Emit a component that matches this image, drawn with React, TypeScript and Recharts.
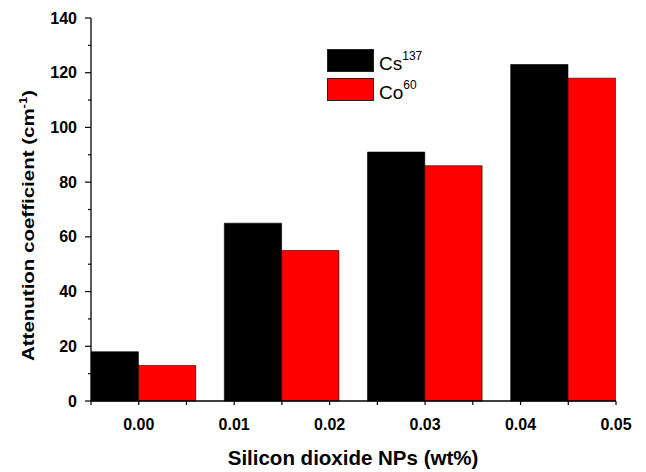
import { BarChart, Bar, XAxis, YAxis, Legend, Label } from 'recharts'

const FONT = '"Liberation Sans", Arial, sans-serif'

// group centres on the wt% axis (pairs sit either side of these)
const X_POS = [0, 0.015, 0.03, 0.045]
const CS137 = [18, 65, 91, 123]
const CO60 = [13, 55, 86, 118]

const X_TICKS = [-0.005, 0, 0.005, 0.01, 0.015, 0.02, 0.025, 0.03, 0.035, 0.04, 0.045, 0.05]
const X_LABELS = ['0.00', '0.01', '0.02', '0.03', '0.04', '0.05']
const Y_TICKS = [0, 10, 20, 30, 40, 50, 60, 70, 80, 90, 100, 110, 120, 130, 140]

const SERIES = [
  { key: 'cs', name: 'Cs', sup: '137', color: '#000000' },
  { key: 'co', name: 'Co', sup: '60', color: '#ff0000' },
]

const data = X_POS.map((x, i) => ({ x, cs: CS137[i], co: CO60[i] }))

function XTick({ x, y, payload }: any) {
  const v = payload.value
  const idx = Math.round(v * 100)
  const labelled = Math.abs(v * 100 - idx) < 1e-6 && idx >= 0
  return (
    <g>
      <line x1={x} x2={x} y1={y} y2={y + 4} stroke="#000" strokeWidth={1.2} />
      {labelled && (
        <text x={x} y={y + 29} textAnchor="middle" fontSize={16} fontWeight="bold" fontFamily={FONT} fill="#000">
          {X_LABELS[idx]}
        </text>
      )}
    </g>
  )
}

function YTick({ x, y, payload }: any) {
  const major = payload.value % 20 === 0
  return (
    <g>
      <line x1={x - (major ? 6 : 3)} x2={x} y1={y} y2={y} stroke="#000" strokeWidth={1.2} />
      {major && (
        <text x={x - 14} y={y + 5.5} textAnchor="end" fontSize={16} fontWeight="bold" fontFamily={FONT} fill="#000">
          {payload.value}
        </text>
      )}
    </g>
  )
}

function LegendBox() {
  return (
    <div style={{ fontFamily: FONT, color: '#000' }}>
      {SERIES.map((s) => (
        <div key={s.key} style={{ display: 'flex', alignItems: 'center', height: 23, marginBottom: 6 }}>
          <span
            style={{
              width: 45, height: 21, background: s.color,
              border: '1px solid #222', display: 'inline-block',
            }}
          />
          <span style={{ fontSize: 19, marginLeft: 5, lineHeight: '23px', position: 'relative', top: 3 }}>
            {s.name}
            <sup style={{ fontSize: 12, verticalAlign: 'top', position: 'relative', top: -7 }}>{s.sup}</sup>
          </span>
        </div>
      ))}
    </div>
  )
}

export default function App() {
  return (
    <div style={{ position: 'absolute', left: 0, top: 0, width: 646, height: 472, background: '#fff' }}>
      <BarChart
        width={646}
        height={472}
        data={data}
        margin={{ top: 18, right: 30, left: 0, bottom: 0 }}
        barGap={0}
        barSize={57.3}
      >
        <XAxis
          dataKey="x"
          type="number"
          domain={[-0.005, 0.05]}
          ticks={X_TICKS}
          allowDataOverflow
          interval={0}
          height={71}
          tickSize={0}
          tickMargin={0}
          tickLine={false}
          axisLine={{ stroke: '#000', strokeWidth: 1.3 }}
          tick={<XTick />}
        >
          <Label
            content={() => (
              <text x={353} y={465} textAnchor="middle" fontSize={20.5} fontWeight="bold" fontFamily={FONT} fill="#000">
                Silicon dioxide NPs (wt%)
              </text>
            )}
          />
        </XAxis>
        <YAxis
          type="number"
          domain={[0, 140]}
          ticks={Y_TICKS}
          interval={0}
          width={91}
          tickSize={0}
          tickMargin={0}
          tickLine={false}
          axisLine={{ stroke: '#000', strokeWidth: 1.3 }}
          tick={<YTick />}
        >
          <Label
            content={() => (
              <text
                transform="translate(33.5,225.5) rotate(-90) scale(1,0.8)"
                textAnchor="middle"
                fontSize={20.5}
                fontWeight="bold"
                fontFamily={FONT}
                fill="#000"
              >
                Attenution coefficient (cm
                <tspan fontSize={13} dy={-8}>-1</tspan>
                <tspan dy={8}>)</tspan>
              </text>
            )}
          />
        </YAxis>
        <Legend
          layout="horizontal"
          verticalAlign="middle"
          align="center"
          content={<LegendBox />}
          wrapperStyle={{ position: 'absolute', left: 327, top: 49, width: 'auto', height: 'auto' }}
        />
        {SERIES.map((s) => (
          <Bar
            key={s.key}
            dataKey={s.key}
            name={s.name}
            fill={s.color}
            stroke="#000"
            strokeWidth={0.6}
            isAnimationActive={false}
          />
        ))}
      </BarChart>
    </div>
  )
}
